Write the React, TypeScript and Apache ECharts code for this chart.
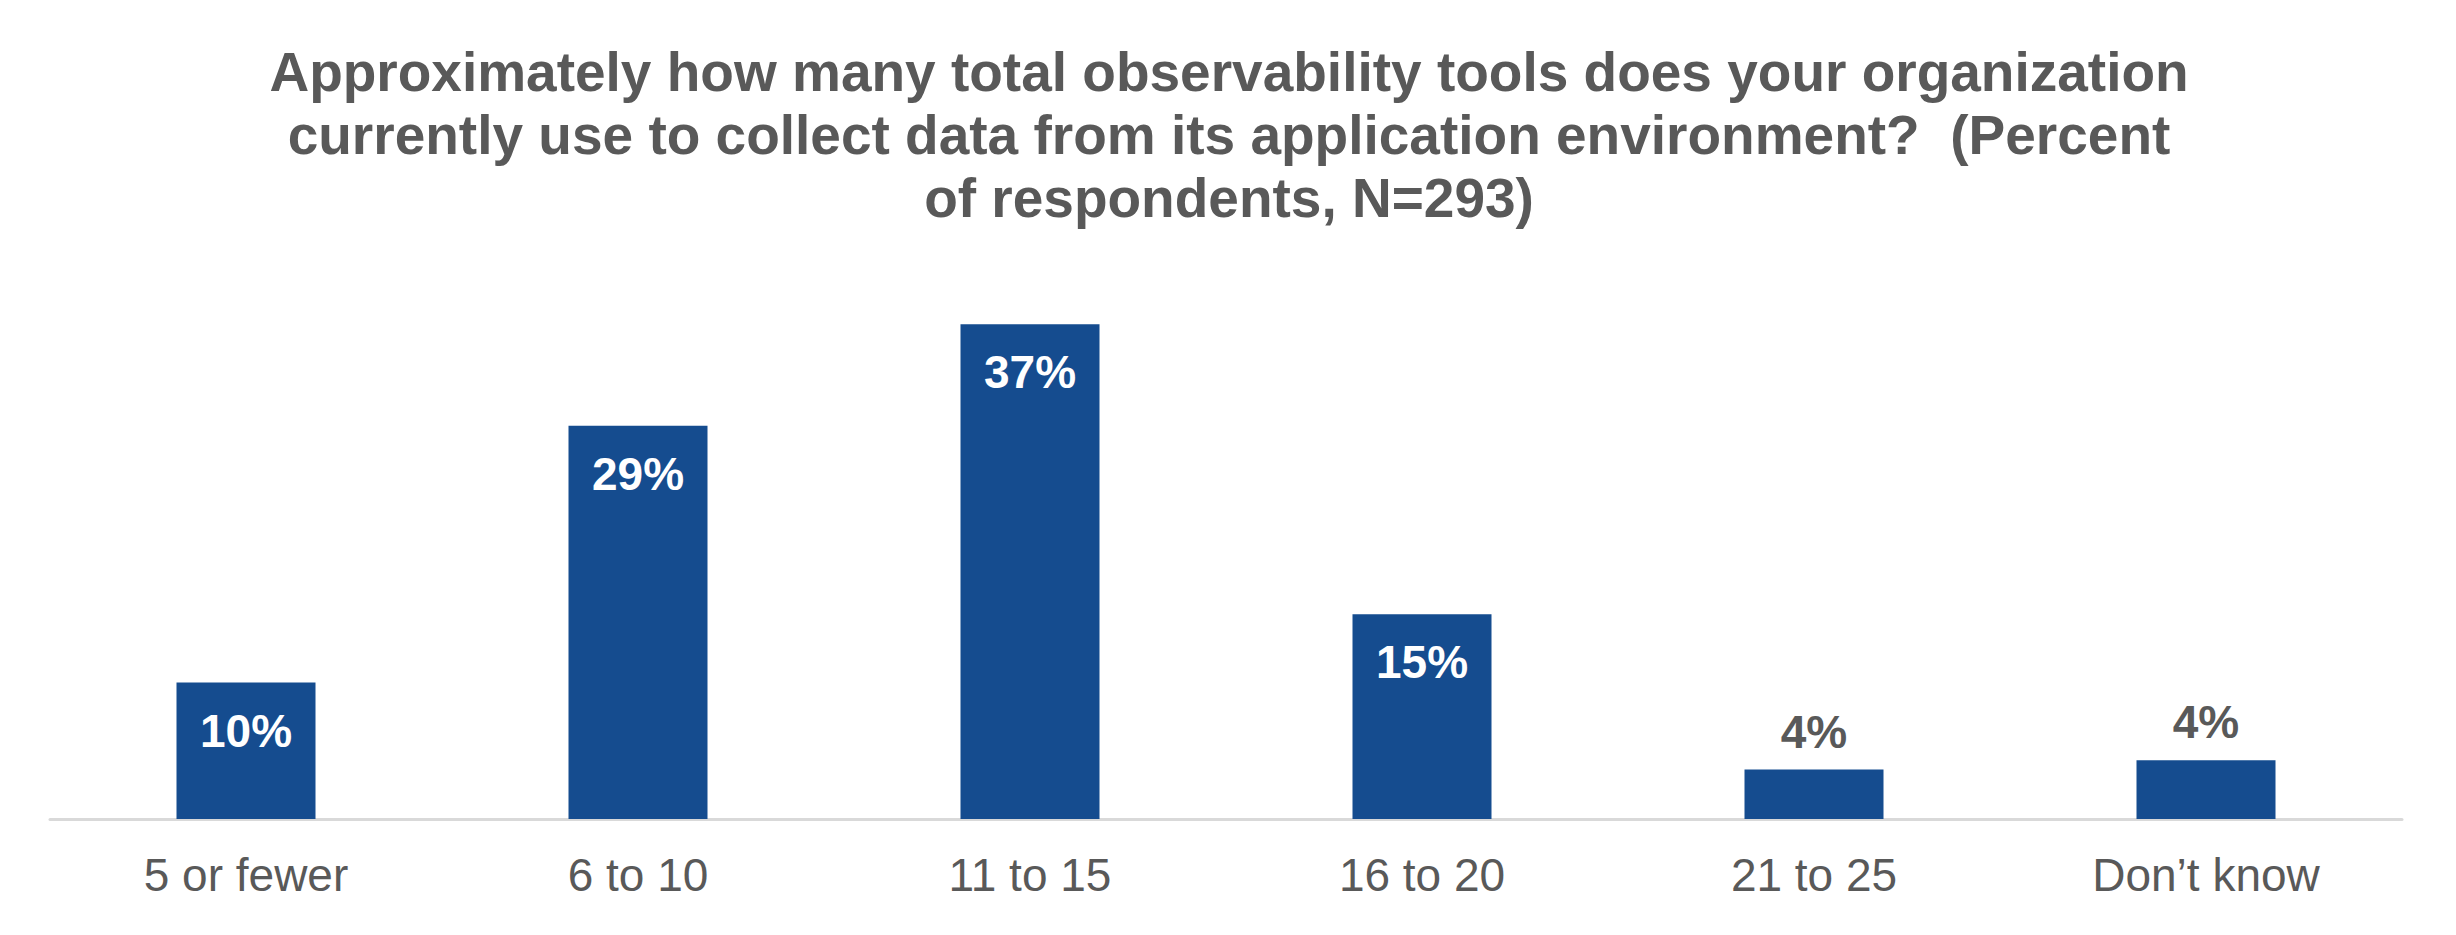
import React, { useEffect, useRef } from "react";
import * as echarts from "echarts";

const categories = ["5 or fewer", "6 to 10", "11 to 15", "16 to 20", "21 to 25", "Don\u2019t know"];
const values = [10.2, 29.4, 37.0, 15.3, 3.7, 4.4];
const titleLines = [
  "Approximately how many total observability tools does your organization",
  "currently use to collect data from its application environment?  (Percent",
  "of respondents, N=293)",
];

const FONT = "'Liberation Sans', Arial, Helvetica, sans-serif";
const GREY = "#595959";
const BLUE = "#154C8F";

export default function App() {
  const ref = useRef<HTMLDivElement>(null);
  useEffect(() => {
    document.body.style.margin = "0";
    if (!ref.current) return;
    const chart = echarts.init(ref.current, null, { renderer: "svg" });
    chart.setOption({
      animation: false,
      backgroundColor: "#ffffff",
      title: {
        text: titleLines.join("\n"),
        left: 1224,
        top: 35,
        textAlign: "center",
        textStyle: {
          fontFamily: FONT,
          fontWeight: "bold",
          fontSize: 55,
          lineHeight: 63,
          color: GREY,
        },
      },
      grid: { left: 50, right: 54, top: 284, bottom: 116 },
      xAxis: {
        type: "category",
        data: categories,
        axisLine: { show: true, lineStyle: { color: "#d9d9d9", width: 3 } },
        axisTick: { show: false },
        axisLabel: {
          fontFamily: FONT,
          fontSize: 46,
          color: GREY,
          margin: 33,
          interval: 0,
        },
      },
      yAxis: {
        type: "value",
        min: 0,
        max: 40,
        show: false,
        splitLine: { show: false },
      },
      series: [
        {
          type: "bar",
          barWidth: 139,
          data: values.map((v) => ({
            value: v,
            label:
              v < 5
                ? { position: "top", color: GREY, distance: 15 }
                : { position: "insideTop", color: "#ffffff", distance: 25 },
          })),
          itemStyle: { color: BLUE },
          label: {
            show: true,
            fontFamily: FONT,
            fontWeight: "bold",
            fontSize: 46,
            formatter: (p: any) => Math.round(p.value) + "%",
          },
        },
      ],
    });
    return () => chart.dispose();
  }, []);
  return <div ref={ref} style={{ width: 2456, height: 935 }} />;
}
